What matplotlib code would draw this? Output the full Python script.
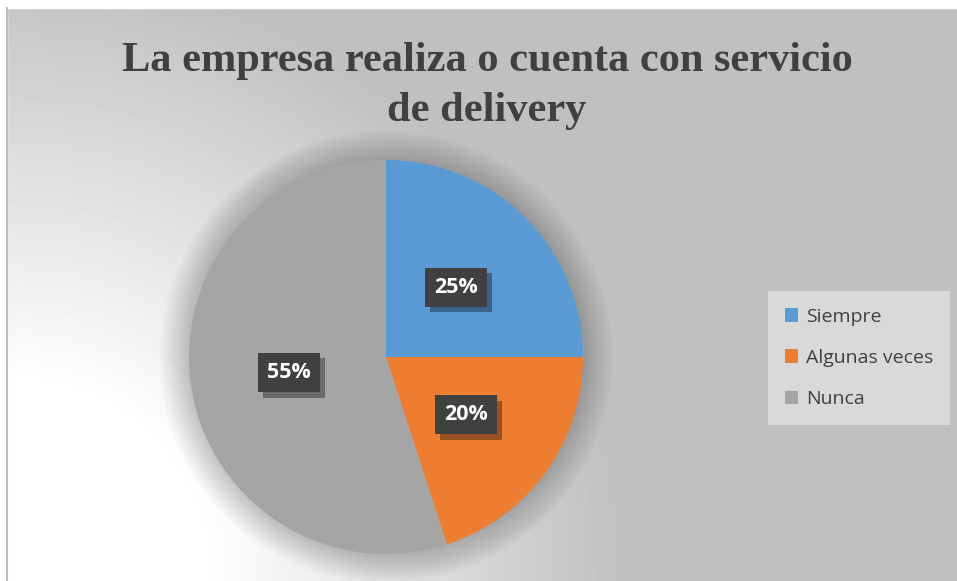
import numpy as np
import matplotlib
matplotlib.use("Agg")
import matplotlib.pyplot as plt
from matplotlib.patches import Circle
import matplotlib.patheffects as pe

# datos
categorias = ["Siempre", "Algunas veces", "Nunca"]
valores = [25, 20, 55]
colores = ["#5b9bd5", "#ed7d31", "#a5a5a5"]
titulo = "La empresa realiza o cuenta con servicio\nde delivery"

W, H = 957, 581
fig = plt.figure(figsize=(W / 100, H / 100), dpi=100)

# fondo con degradado radial (blanco abajo a la izquierda)
bg = fig.add_axes([0, 0, 1, 1])
yy, xx = np.mgrid[0:H, 0:W]
r = np.hypot(xx - 7, yy - H)
t = np.clip((r - 200) / 420, 0, 1)
gris = 0.75
img = 1 - t * (1 - gris)
bg.imshow(img, cmap="gray", vmin=0, vmax=1, extent=[0, W, H, 0], aspect="auto")
bg.fill_between([0, W], 0, 8, color="white")
bg.fill_between([0, 7], 0, H, color="white")
bg.plot([7, 7], [8, H], color="#bfbfbf", lw=1.5)
bg.set_xlim(0, W)
bg.set_ylim(H, 0)
bg.axis("off")

# pastel: centro (386, 357) px, radio 197 px
cx, cy, rad = 386, 357, 197
ax = fig.add_axes([(cx - rad) / W, (H - cy - rad) / H, 2 * rad / W, 2 * rad / H])

# halo / sombra alrededor del pastel
for rr in np.linspace(1.0, 1.15, 14):
    ax.add_patch(Circle((0, 0), rr, color="black", alpha=0.016, lw=0, clip_on=False))

wedges, textos, pct = ax.pie(
    valores, colors=colores, startangle=90, counterclock=False, radius=1,
    autopct="%d%%", pctdistance=0.5,
    wedgeprops=dict(linewidth=0),
    textprops=dict(color="white", fontsize=15.5, fontweight="bold", family="Open Sans"),
)
for p in pct:
    p.set_bbox(dict(boxstyle="square,pad=0.42", facecolor="#404040", edgecolor="none"))
    p.get_bbox_patch().set_path_effects([
        pe.SimplePatchShadow(offset=(4, -4), shadow_rgbFace="black", alpha=0.35),
        pe.Normal(),
    ])
ax.set_xlim(-1, 1)
ax.set_ylim(-1, 1)
ax.set_aspect("equal")

fig.text(487 / W, 1 - 86 / H, titulo, ha="center", va="center", fontsize=30.5,
         fontweight="bold", family="Liberation Serif", color="#404040", linespacing=1.38)

leg = fig.legend(
    wedges, categorias, loc="center",
    bbox_to_anchor=(859 / W, 1 - 358 / H),
    frameon=True, fancybox=False, facecolor="#d9d9d9", edgecolor="none", framealpha=1,
    prop=dict(family="Open Sans", size=14), labelcolor="#404040",
    handlelength=0.7, handleheight=0.7, handletextpad=0.4,
    labelspacing=1.2, borderpad=0.85, borderaxespad=0,
)

fig.savefig("out.png", dpi=100)
